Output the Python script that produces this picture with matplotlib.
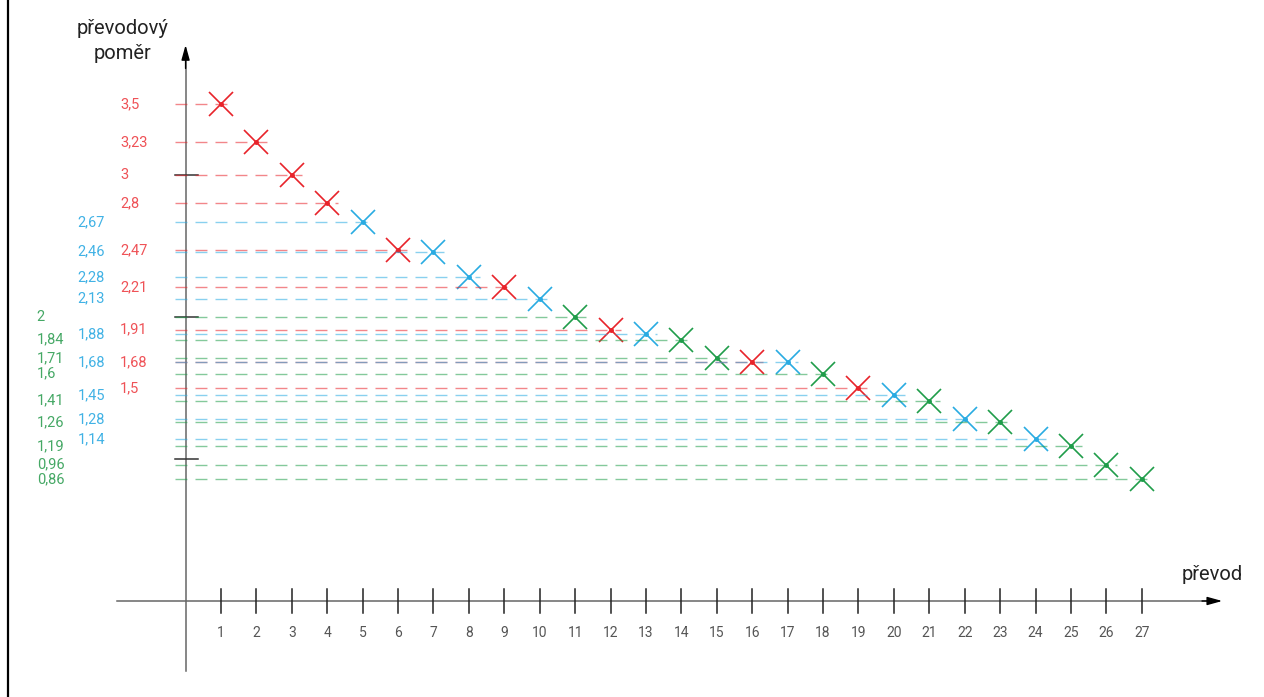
import matplotlib.pyplot as plt

# gear number, ratio (marker position), label text and chainring colour
gears = list(range(1, 28))
ratios = [3.5, 3.23, 3.0, 2.8, 2.67, 2.47, 2.46, 2.28, 2.21, 2.13, 2.0, 1.91, 1.88, 1.84,
          1.71, 1.68, 1.68, 1.6, 1.5, 1.45, 1.41, 1.28, 1.26, 1.14, 1.09, 0.96, 0.86]
labels = ["3,5", "3,23", "3", "2,8", "2,67", "2,47", "2,46", "2,28", "2,21", "2,13", "2", "1,91",
          "1,88", "1,84", "1,71", "1,68", "1,68", "1,6", "1,5", "1,45", "1,41", "1,28", "1,26",
          "1,14", "1,19", "0,96", "0,86"]
groups = ["r", "r", "r", "r", "b", "r", "b", "b", "r", "b", "g", "r", "b", "g",
          "g", "r", "b", "g", "r", "b", "g", "b", "g", "b", "g", "g", "g"]
y_ticks = [1, 2, 3]

colors = {"r": "#e8232a", "b": "#29abe2", "g": "#1f9d4a"}
text_colors = {"r": "#ef5257", "b": "#41b2e5", "g": "#45a865"}
label_x = {"g": -4.2, "b": -3.05, "r": -1.85}

fig = plt.figure(figsize=(12.64, 6.97), dpi=100)
ax = fig.add_axes([0, 0, 1, 1])
ax.set_xlim(-5.24, 30.45)
ax.set_ylim(-0.676, 4.232)
ax.axis("off")

# frame line on the left
ax.plot([-5.015, -5.015], [-0.676, 4.232], color="black", lw=1.6, solid_capstyle="butt")

# axes: gray lines, black arrow heads
ax.plot([-1.94, 29.0], [0, 0], color="#666666", lw=1.1)
ax.plot([0, 0], [-0.49, 3.8], color="#666666", lw=1.1)
head = dict(arrowstyle="-|>,head_length=0.9,head_width=0.25", color="black", lw=1.0,
            shrinkA=0, shrinkB=0)
ax.annotate("", xy=(29.27, 0), xytext=(28.7, 0), arrowprops=head)
ax.annotate("", xy=(0, 3.915), xytext=(0, 3.75), arrowprops=head)

# x ticks
for g in gears:
    ax.plot([g, g], [-0.085, 0.085], color="#222222", lw=1.1)
    ax.text(g, -0.225, str(g), ha="center", va="center", fontsize=10, color="#555555",
            family="Roboto")

# black y ticks
for v in y_ticks:
    ax.plot([-0.3, 0.35], [v, v], color="#333333", lw=1.1)

# dashed lines, markers and labels
for g, r, lab, grp in zip(gears, ratios, labels, groups):
    c = colors[grp]
    ax.plot([-0.3, g + 0.3], [r, r], color=c, lw=1.0, alpha=0.55, dashes=(8.6, 5.8))
    ax.plot(g, r, marker="x", ms=17, mew=1.2, color=c, ls="none")
    ax.plot(g, r, marker="o", ms=2.5, color=c, ls="none")
    ax.text(label_x[grp], r, lab, ha="left", va="center", fontsize=10.5, color=text_colors[grp],
            family="Roboto")

ax.text(-1.77, 3.94, "převodový\npoměr", ha="center", va="center", fontsize=14.5, color="#222222",
        family="Roboto", linespacing=1.4)
ax.text(28.98, 0.19, "převod", ha="center", va="center", fontsize=14.5, color="#222222",
        family="Roboto")

fig.savefig("out.png", dpi=100)
